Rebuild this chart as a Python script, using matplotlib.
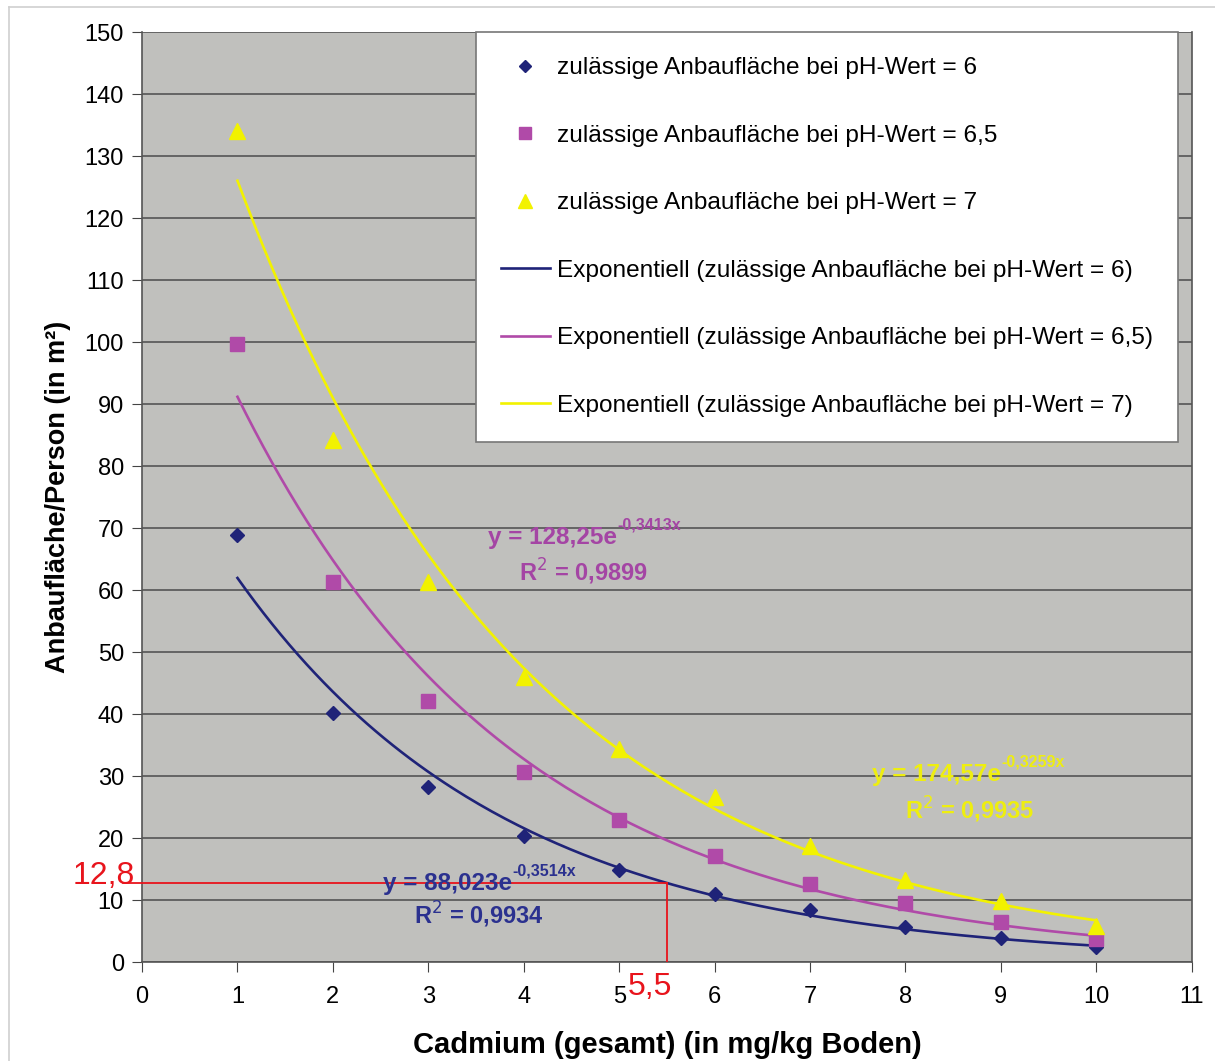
import numpy as np
import matplotlib
matplotlib.use('Agg')
import matplotlib.pyplot as plt
from matplotlib.lines import Line2D

plt.rcParams['font.family'] = ['Liberation Sans', 'DejaVu Sans']

# Daten
cadmium = [1, 2, 3, 4, 5, 6, 7, 8, 9, 10]
flaeche_ph6 = [68.9, 40.2, 28.2, 20.3, 14.8, 11.0, 8.4, 5.6, 3.9, 2.4]
flaeche_ph65 = [99.7, 61.3, 42.1, 30.6, 22.9, 17.1, 12.6, 9.5, 6.5, 3.7]
flaeche_ph7 = [134.0, 84.2, 61.3, 46.0, 34.4, 26.6, 18.7, 13.2, 9.8, 5.8]

# Trendlinien (Koeffizienten aus dem Diagramm)
trend_a = [88.023, 128.25, 174.57]
trend_b = [-0.3514, -0.3413, -0.3259]
trend_r2 = ['0,9934', '0,9899', '0,9935']
trend_a_txt = ['88,023', '128,25', '174,57']
trend_b_txt = ['-0,3514x', '-0,3413x', '-0,3259x']

ablese_x = 5.5
ablese_y = 12.8

farben = ['#1f2378', '#b04aa8', '#f2f200']
marker = ['D', 's', '^']
msize = [7, 10, 11]
labels = ['zulässige Anbaufläche bei pH-Wert = 6',
          'zulässige Anbaufläche bei pH-Wert = 6,5',
          'zulässige Anbaufläche bei pH-Wert = 7']
werte = [flaeche_ph6, flaeche_ph65, flaeche_ph7]

fig = plt.figure(figsize=(12.15, 10.61), dpi=100)
ax = fig.add_axes([0.1169, 0.0933, 0.864, 0.8765])
ax.set_facecolor('#c0c0bd')

x_fit = np.linspace(1, 10, 200)
for i in range(3):
    ax.plot(x_fit, trend_a[i] * np.exp(trend_b[i] * x_fit), color=farben[i], lw=1.9, zorder=3)
    ax.plot(cadmium, werte[i], ls='none', marker=marker[i], color=farben[i],
            markersize=msize[i], zorder=4)

ax.set_xlim(0, 11)
ax.set_ylim(0, 150)
ax.set_xticks(range(0, 12))
ax.set_yticks(range(0, 151, 10))
ax.grid(axis='y', color='#555555', lw=1.2)
ax.set_axisbelow(True)
ax.tick_params(labelsize=17, length=7, color='#444444')
ax.tick_params(axis='x', pad=10)
ax.tick_params(axis='y', pad=6)
ax.spines['top'].set_visible(False)
for s in ['left', 'bottom', 'right']:
    ax.spines[s].set_color('#555555')
    ax.spines[s].set_linewidth(1.2)

ax.set_xlabel('Cadmium (gesamt) (in mg/kg Boden)', fontsize=21, fontweight='bold', labelpad=17)
ax.set_ylabel('Anbaufläche/Person (in m²)', fontsize=19.5, fontweight='bold', labelpad=10)

# Ablesehilfe
ax.plot([-0.2, ablese_x], [ablese_y, ablese_y], color='#e8141c', lw=1.3, clip_on=False, zorder=5)
ax.plot([ablese_x, ablese_x], [0, ablese_y], color='#e8141c', lw=1.3, zorder=5)
ax.text(-0.07, ablese_y + 1.1, '12,8', color='#e8141c', fontsize=23, ha='right', va='center')
ax.text(ablese_x - 0.18, -1.6, '5,5', color='#e8141c', fontsize=23, ha='center', va='top')

# Gleichungen
pos_gl = [(3.2, 12.7), (4.3, 68.4), (8.33, 30.2)]
pos_r2 = [(3.53, 7.6), (4.63, 62.9), (8.67, 24.5)]
text_farben = ['#2b318f', '#a445a4', '#eeee10']
for i in range(3):
    t = ax.text(pos_gl[i][0], pos_gl[i][1], 'y = ' + trend_a_txt[i] + 'e', color=text_farben[i],
                fontsize=17.5, fontweight='bold', ha='center', va='center', zorder=6)
    ax.annotate(trend_b_txt[i], xy=(1.0, 0.72), xycoords=t, color=text_farben[i],
                fontsize=11.5, fontweight='bold', va='bottom', ha='left', zorder=6)
    ax.text(pos_r2[i][0], pos_r2[i][1], 'R$^2$ = ' + trend_r2[i], color=text_farben[i],
            fontsize=17, fontweight='bold', ha='center', va='center', zorder=6)

# Legende
handles = [Line2D([], [], ls='none', marker=marker[i], color=farben[i], markersize=msize[i] - 1)
           for i in range(3)]
handles += [Line2D([], [], color=farben[i], lw=1.9) for i in range(3)]
leg_labels = labels + ['Exponentiell (' + l + ')' for l in labels]
leg = fig.legend(handles, leg_labels, loc='upper left', bbox_to_anchor=(0.3918, 0.9698),
                 fontsize=17.6, frameon=True, fancybox=False, labelspacing=1.86,
                 handlelength=2.0, handletextpad=0.3, borderpad=1.02, borderaxespad=0)
leg.get_frame().set_edgecolor('#777777')
leg.get_frame().set_linewidth(1.2)
leg.get_frame().set_alpha(1)

# Rahmen (nur links und oben sichtbar)
fig.add_artist(Line2D([0.0074, 0.0074], [0.0, 0.9934], transform=fig.transFigure,
                      color='#d0d0d0', lw=1.2))
fig.add_artist(Line2D([0.0074, 1.0], [0.9934, 0.9934], transform=fig.transFigure,
                      color='#d0d0d0', lw=1.2))

fig.savefig('out.png', dpi=100)
